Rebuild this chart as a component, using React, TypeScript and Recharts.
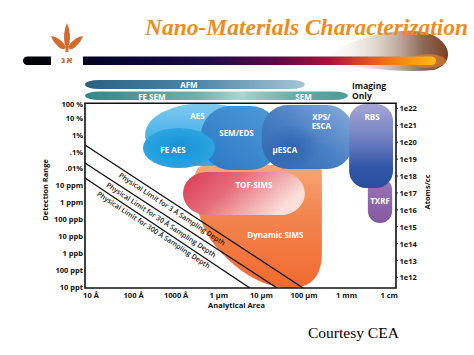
import React from 'react';
import { ComposedChart, XAxis, YAxis, Line, ReferenceArea } from 'recharts';

// analytical area, log10 of the probed size in metres
const areaTicks = [-9, -8, -7, -6, -5, -4, -3, -2];
const areaLabels = ['10 Å', '100 Å', '1000 Å', '1 µm', '10 µm', '100 µm', '1 mm', '1 cm'];

// detection range, log10 of the atomic fraction
const detectTicks = [0, -1, -2, -3, -4, -5, -6, -7, -8, -9, -10, -11];
const detectLabels = ['100 %', '10 %', '1%', '.1%', '.01%', '10 ppm', '1 ppm', '100 ppb', '10 ppb', '1 ppb', '100 ppt', '10 ppt'];

// same range as atoms/cc (log10)
const atomTicks = [22, 21, 20, 19, 18, 17, 16, 15, 14, 13, 12];
const atomLabels = ['1e22', '1e21', '1e20', '1e19', '1e18', '1e17', '1e16', '1e15', '1e14', '1e13', '1e12'];

// techniques, back to front
const techniques = ['Dynamic SIMS', 'TOF-SIMS', 'AES', 'SEM/EDS', 'FE AES', 'XPS/ESCA', 'µESCA', 'TXRF', 'RBS'];
const areaFrom = [-6.56, -6.84, -7.73, -6.42, -7.78, -4.99, -4.99, -2.5, -2.94];
const areaTo = [-3.58, -3.98, -4.99, -4.56, -6.09, -2.85, -3.58, -1.93, -1.91];
const detectBest = [-11.077, -6.76, -3.86, -4.1, -3.98, -4.04, -4.04, -7.23, -5.16];
const detectWorst = [-3.8, -4.21, -0.14, -0.31, -1.61, -0.25, -1.43, -4.57, -0.19];

// imaging only techniques
const imagingTechniques = ['AFM', 'SEM', 'FE SEM'];
const imagingFrom = [-9.14, -5.85, -9.14];
const imagingTo = [-3.98, -2.97, -5.39];
const imagingRow = [0, 1, 1];

// physical limits
const samplingDepths = ['3 Å', '30 Å', '300 Å'];
const limitAtSmallest = [-2.62, -3.68, -4.57];
const limitAtFloor = [-4.02, -4.63, -5.27];

const X_MIN = -9.14;
const X_MAX = -1.84;
const Y_MIN = -11.077;
const Y_MAX = 1.509;
const FRAME_TOP = -0.148;
const ATOM_SHIFT = 22.45;
const ROW_TOP = [1.23, 0.55];
const ROW_BOTTOM = [0.7, 0.05];

const SANS = '"Open Sans", "DejaVu Sans", sans-serif';
const SERIF = '"Liberation Serif", "DejaVu Serif", serif';

const limitLines = samplingDepths.map((_, i) => [
  { x: X_MIN, y: limitAtSmallest[i] },
  { x: limitAtFloor[i], y: Y_MIN },
]);
const limitLabelShift = [45, 30, 19];

const blobLook: Record<string, any> = {
  'Dynamic SIMS': { kind: 'sims', fill: 'url(#gDyn)', dx: 17, dy: 8 },
  'TOF-SIMS': { kind: 'round', r: 24, fill: 'url(#gTof)', dx: 10, dy: -9 },
  AES: { kind: 'ellipse', fill: 'url(#gAes)', dx: -6, dy: -19 },
  'SEM/EDS': { kind: 'round', r: 30, fill: 'url(#gSem)', dx: -4, dy: -6 },
  'FE AES': { kind: 'ellipse', fill: 'url(#gFeAes)', dx: -6, dy: 1 },
  'XPS/ESCA': { kind: 'round', r: 26, fill: 'url(#gXps)', dx: 14, dy: -21, lines: ['XPS/', 'ESCA'] },
  'µESCA': { kind: 'ellipse', fill: 'url(#gMu)', dx: -7, dy: 2 },
  TXRF: { kind: 'round', r: 12, fill: 'url(#gTxrf)', dx: 0, dy: 0 },
  RBS: { kind: 'round', r: 17, fill: 'url(#gRbs)', dx: 1, dy: -30 },
};

const bandLook: Record<string, any> = {
  AFM: { fill: 'url(#gAfm)', dx: -6 },
  SEM: { fill: 'url(#gSemBar)', dx: 17 },
  'FE SEM': { fill: 'url(#gFeSem)', dx: -13 },
};

const labelText = (cx: number, cy: number, lines: string[], key?: string) =>
  lines.map((t, i) => (
    <text
      key={(key || '') + i}
      x={cx}
      y={cy + i * 9.5}
      textAnchor="middle"
      dominantBaseline="central"
      fontFamily={SANS}
      fontSize={8}
      fontWeight={700}
      fill="#fff"
    >
      {t}
    </text>
  ));

const renderBlob = (name: string, part: 'shape' | 'label') => (p: any) => {
  const { x, y, width: w, height: h } = p;
  const s = blobLook[name];
  if (part === 'label') return <g>{labelText(x + w / 2 + s.dx, y + h / 2 + s.dy, s.lines || [name], name)}</g>;
  if (s.kind === 'ellipse') {
    return <ellipse cx={x + w / 2} cy={y + h / 2} rx={w / 2} ry={h / 2} fill={s.fill} />;
  }
  if (s.kind === 'round') {
    return <rect x={x} y={y} width={w} height={h} rx={s.r} ry={s.r} fill={s.fill} />;
  }
  const d = `M ${x} ${y + 0.1 * h} Q ${x} ${y} ${x + 0.1 * w} ${y} L ${x + w - 8} ${y} Q ${x + w} ${y} ${x + w} ${y + 8}
    L ${x + w} ${y + 0.72 * h} C ${x + w} ${y + 0.92 * h} ${x + 0.9 * w} ${y + h} ${x + 0.76 * w} ${y + h}
    C ${x + 0.55 * w} ${y + h} ${x + 0.35 * w} ${y + 0.88 * h} ${x + 0.18 * w} ${y + 0.68 * h}
    C ${x + 0.05 * w} ${y + 0.53 * h} ${x} ${y + 0.35 * h} ${x} ${y + 0.1 * h} Z`;
  return <path d={d} fill={s.fill} />;
};

const renderBand = (name: string) => (p: any) => {
  const { x, y, width: w, height: h } = p;
  const s = bandLook[name];
  return (
    <g>
      <rect x={x} y={y} width={w} height={h} rx={14} ry={h / 2} fill={s.fill} />
      {labelText(x + w / 2 + s.dx, y + h / 2 + 0.5, [name], name)}
    </g>
  );
};

const limitLabel = (i: number) => (p: any) => {
  if (p.index !== 0) return <g key={`ll${i}-${p.index}`} />;
  return (
    <text
      key={`ll${i}`}
      x={p.cx}
      y={p.cy}
      dx={limitLabelShift[i]}
      dy={8}
      transform={`rotate(33.4, ${p.cx}, ${p.cy})`}
      fontFamily={SANS}
      fontSize={7}
      fontWeight={600}
      fill="#1a1a1a"
    >
      {`Physical Limit for ${samplingDepths[i]} Sampling Depth`}
    </text>
  );
};

const AreaTick = (p: any) => {
  const i = areaTicks.indexOf(p.payload.value);
  return (
    <text x={p.x} y={p.y} dy="0.71em" textAnchor="middle" fontFamily={SANS} fontSize={7.5} fontWeight={700} fill="#111">
      {areaLabels[i]}
    </text>
  );
};

const DetectTick = (p: any) => {
  const i = detectTicks.indexOf(p.payload.value);
  return (
    <text x={p.x} y={p.y + (i === 0 ? 3.5 : 0)} textAnchor="end" dominantBaseline="central" fontFamily={SANS} fontSize={7.5} fontWeight={700} fill="#111">
      {detectLabels[i]}
    </text>
  );
};

const AtomTick = (p: any) => {
  const i = atomTicks.indexOf(p.payload.value);
  return (
    <text x={p.x} y={p.y} textAnchor="start" dominantBaseline="central" fontFamily={SANS} fontSize={7.5} fontWeight={700} fill="#111">
      {atomLabels[i]}
    </text>
  );
};

function Header() {
  return (
    <svg width={474} height={80} style={{ position: 'absolute', left: 0, top: 0 }}>
      <defs>
        <linearGradient id="ruleGrad" x1="0" x2="1" y1="0" y2="0">
          <stop offset="0" stopColor="#000" />
          <stop offset="0.2" stopColor="#03032e" />
          <stop offset="0.45" stopColor="#1d0b48" />
          <stop offset="0.62" stopColor="#5c0a46" />
          <stop offset="0.74" stopColor="#a8123a" />
          <stop offset="0.87" stopColor="#ef6c1c" />
          <stop offset="1" stopColor="#ffbb14" />
        </linearGradient>
        <linearGradient id="swooshGrad" x1="0" x2="1" y1="0" y2="0">
          <stop offset="0" stopColor="#fff" stopOpacity="0" />
          <stop offset="0.45" stopColor="#c9b4a8" stopOpacity="0.6" />
          <stop offset="0.8" stopColor="#8c6a58" />
          <stop offset="1" stopColor="#7a4020" />
        </linearGradient>
      </defs>
      <path d="M 320 62 C 350 34, 415 22, 438 38 C 452 48, 452 64, 434 70 C 400 73, 360 68, 320 62 Z" fill="url(#swooshGrad)" />
      <ellipse cx={428} cy={61} rx={18} ry={7} fill="#e88a30" opacity={0.6} />
      <rect x={23} y={56.5} width={413} height={8.5} rx={4.2} fill="url(#ruleGrad)" />
      <rect x={51} y={54} width={32} height={12} fill="#fff" />
      <g fill="#d46a2c">
        <path d="M67 23 Q71.5 33 69.2 45 L64.8 45 Q62.5 33 67 23 Z" />
        <path d="M51 36 Q60 37 66 47 L64 49.5 Q54.5 46 51 36 Z" />
        <path d="M83 36 Q74 37 68 47 L70 49.5 Q79.5 46 83 36 Z" />
        <path d="M57 44 Q62 43 64.5 48 L62 49 Q58.5 48 57 44 Z" />
        <path d="M77 44 Q72 43 69.5 48 L72 49 Q75.5 48 77 44 Z" />
        <rect x={65.5} y={44} width={3} height={8} />
      </g>
      <text x={67} y={63} textAnchor="middle" fontFamily='"DejaVu Sans", sans-serif' fontSize={10} fontWeight={700} fill="#d46a2c">
        אנ
      </text>
      <text x={145} y={35} fontFamily={SERIF} fontStyle="italic" fontWeight={700} fontSize={23.5} fill="#ef8c1c">
        Nano-Materials Characterization
      </text>
    </svg>
  );
}

function Overlay() {
  const t = { fontFamily: SANS, fontWeight: 700, fill: '#111' } as const;
  return (
    <svg width={474} height={355} style={{ position: 'absolute', left: 0, top: 0, pointerEvents: 'none' }}>
      <text {...t} fontSize={7.5} transform="translate(44.5,190) rotate(-90)" textAnchor="middle" dominantBaseline="central">
        Detection Range
      </text>
      <text {...t} fontSize={7.5} transform="translate(427,192) rotate(-90)" textAnchor="middle" dominantBaseline="central">
        Atoms/cc
      </text>
      <text {...t} fontSize={7.5} x={236.5} y={305} textAnchor="middle" dominantBaseline="central">
        Analytical Area
      </text>
      <text {...t} fontSize={8.5} x={352} y={85} dominantBaseline="central">
        Imaging
      </text>
      <text {...t} fontSize={8.5} x={352} y={95.5} dominantBaseline="central">
        Only
      </text>
      <text x={308} y={338} fontFamily={SERIF} fontSize={15.5} fill="#000">
        Courtesy CEA
      </text>
    </svg>
  );
}

export default function App() {
  return (
    <div style={{ position: 'absolute', left: 0, top: 0, width: 474, height: 355, background: '#fff', overflow: 'hidden' }}>
      <Header />
      <div style={{ position: 'absolute', left: 0, top: 0 }}>
        <ComposedChart width={474} height={355} margin={{ top: 75.3, right: 38, bottom: 47, left: 40 }}>
          <defs>
            <linearGradient id="gAes" x1="0" y1="0" x2="0" y2="1">
              <stop offset="0" stopColor="#80caf0" />
              <stop offset="0.5" stopColor="#4db4e8" />
              <stop offset="1" stopColor="#3aa5e0" />
            </linearGradient>
            <radialGradient id="gFeAes">
              <stop offset="0" stopColor="#1592d5" />
              <stop offset="1" stopColor="#2ba4e0" />
            </radialGradient>
            <linearGradient id="gSem" x1="0" y1="1" x2="1" y2="0">
              <stop offset="0" stopColor="#2a78c4" />
              <stop offset="1" stopColor="#4f9bd8" />
            </linearGradient>
            <linearGradient id="gXps" x1="0" y1="1" x2="1" y2="0">
              <stop offset="0" stopColor="#2f66b0" />
              <stop offset="0.5" stopColor="#4a80c4" />
              <stop offset="1" stopColor="#8aaedc" />
            </linearGradient>
            <radialGradient id="gMu">
              <stop offset="0" stopColor="#2a62ae" stopOpacity="0.85" />
              <stop offset="1" stopColor="#2a62ae" stopOpacity="0" />
            </radialGradient>
            <linearGradient id="gRbs" x1="0" y1="0" x2="0" y2="1">
              <stop offset="0" stopColor="#a5a7d5" />
              <stop offset="0.45" stopColor="#6c7cc0" />
              <stop offset="0.75" stopColor="#2f56a6" />
              <stop offset="1" stopColor="#2a4f9e" />
            </linearGradient>
            <linearGradient id="gTxrf" x1="0" y1="0" x2="0" y2="1">
              <stop offset="0" stopColor="#9a76b8" />
              <stop offset="1" stopColor="#84599f" />
            </linearGradient>
            <linearGradient id="gTof" x1="0" y1="0" x2="1" y2="0.4">
              <stop offset="0" stopColor="#d83a55" />
              <stop offset="0.45" stopColor="#e56c78" />
              <stop offset="1" stopColor="#fbe0da" />
            </linearGradient>
            <linearGradient id="gDyn" x1="0" y1="0" x2="0" y2="1">
              <stop offset="0" stopColor="#f7a773" />
              <stop offset="0.4" stopColor="#f38550" />
              <stop offset="1" stopColor="#f06a2e" />
            </linearGradient>
            <linearGradient id="gAfm" x1="0" y1="0" x2="1" y2="0">
              <stop offset="0" stopColor="#2a6080" />
              <stop offset="0.5" stopColor="#4a86a6" />
              <stop offset="1" stopColor="#a9c6d6" />
            </linearGradient>
            <linearGradient id="gFeSem" x1="0" y1="0" x2="1" y2="0">
              <stop offset="0" stopColor="#2f8886" />
              <stop offset="0.7" stopColor="#6fb0ac" />
              <stop offset="1" stopColor="#b3d6d3" />
            </linearGradient>
            <linearGradient id="gSemBar" x1="0" y1="0" x2="1" y2="0">
              <stop offset="0" stopColor="#c0dcda" />
              <stop offset="0.6" stopColor="#62aaa5" />
              <stop offset="1" stopColor="#4d9c97" />
            </linearGradient>
          </defs>
          <XAxis
            type="number"
            dataKey="x"
            domain={[X_MIN, X_MAX]}
            allowDataOverflow
            ticks={areaTicks}
            interval={0}
            tick={AreaTick}
            tickLine={false}
            axisLine={false}
            tickSize={0}
            tickMargin={5}
            height={20}
          />
          <YAxis
            yAxisId="left"
            type="number"
            domain={[Y_MIN, Y_MAX]}
            allowDataOverflow
            ticks={detectTicks}
            interval={0}
            tick={DetectTick}
            tickLine={false}
            axisLine={false}
            tickSize={0}
            tickMargin={2}
            width={45}
          />
          <YAxis
            yAxisId="right"
            orientation="right"
            type="number"
            domain={[Y_MIN + ATOM_SHIFT, Y_MAX + ATOM_SHIFT]}
            allowDataOverflow
            ticks={atomTicks}
            interval={0}
            tick={AtomTick}
            tickLine={{ stroke: '#222' }}
            axisLine={false}
            tickSize={2}
            tickMargin={1.5}
            width={40}
          />
          {imagingTechniques.map((name, i) => (
            <ReferenceArea
              key={name}
              yAxisId="left"
              x1={imagingFrom[i]}
              x2={imagingTo[i]}
              y1={ROW_BOTTOM[imagingRow[i]]}
              y2={ROW_TOP[imagingRow[i]]}
              ifOverflow="visible"
              shape={renderBand(name)}
            />
          ))}
          {techniques.map((name, i) => (
            <ReferenceArea
              key={name}
              yAxisId="left"
              x1={areaFrom[i]}
              x2={areaTo[i]}
              y1={detectBest[i]}
              y2={detectWorst[i]}
              ifOverflow="visible"
              shape={renderBlob(name, 'shape')}
            />
          ))}
          {techniques.map((name, i) => (
            <ReferenceArea
              key={name + '-label'}
              yAxisId="left"
              x1={areaFrom[i]}
              x2={areaTo[i]}
              y1={detectBest[i]}
              y2={detectWorst[i]}
              ifOverflow="visible"
              shape={renderBlob(name, 'label')}
            />
          ))}
          <ReferenceArea
            yAxisId="left"
            x1={X_MIN}
            x2={X_MAX}
            y1={Y_MIN}
            y2={FRAME_TOP}
            ifOverflow="visible"
            fill="none"
            fillOpacity={0}
            stroke="#111"
            strokeWidth={1.6}
          />
          {limitLines.map((pts, i) => (
            <Line
              key={samplingDepths[i]}
              yAxisId="left"
              data={pts}
              dataKey="y"
              stroke="#111"
              strokeWidth={1.3}
              dot={limitLabel(i)}
              activeDot={false}
              isAnimationActive={false}
            />
          ))}
        </ComposedChart>
      </div>
      <Overlay />
    </div>
  );
}
